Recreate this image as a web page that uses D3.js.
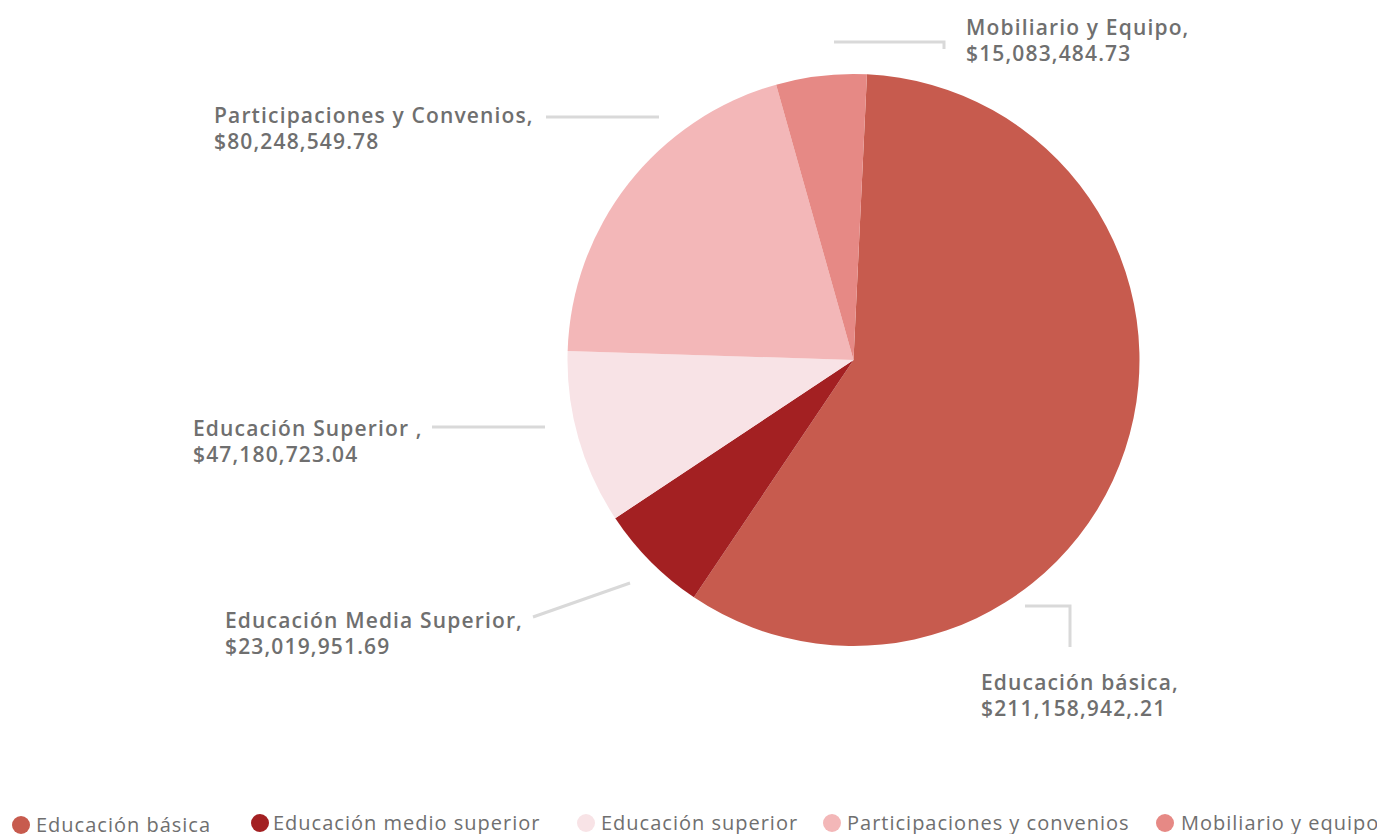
<!DOCTYPE html>
<html><head><meta charset="utf-8">
<script src="https://cdn.jsdelivr.net/npm/d3@7"></script>
<style>
html,body{margin:0;padding:0;background:#fff;}
svg{display:block;}
text{font-family:"Open Sans",sans-serif;font-weight:600;fill:#6f6f6f;}
</style></head>
<body>
<svg id="chart" width="1377" height="834"></svg>
<script>
// Slice shares as drawn (percent of the pie)
const categories = ["Educación básica","Educación Media Superior","Educación Superior","Participaciones y Convenios","Mobiliario y Equipo"];
const shares = [58.67, 6.25, 9.83, 20.14, 5.11];
const labelNames = ["Educación básica,","Educación Media Superior,","Educación Superior ,","Participaciones y Convenios,","Mobiliario y Equipo,"];
const labelAmounts = ["$211,158,942,.21","$23,019,951.69","$47,180,723.04","$80,248,549.78","$15,083,484.73"];
const legendNames = ["Educación básica","Educación medio superior","Educación superior","Participaciones y convenios","Mobiliario y equipo"];
const colors = ["#C75B4E","#A32022","#F8E3E6","#F3B7B8","#E68985"];

const svg = d3.select("#chart");
const cx = 853.5, cy = 360, R = 286;
const startDeg = 2.7;
const pie = d3.pie().sort(null).value(d => d.v)
  .startAngle(startDeg*Math.PI/180).endAngle((startDeg+360)*Math.PI/180);
const data = categories.map((c,i)=>({c, v: shares[i], i}));
const arcs = pie(data);
const arc = d3.arc().innerRadius(0).outerRadius(R);
const color = d3.scaleOrdinal().domain(categories).range(colors);

const g = svg.append("g").attr("transform",`translate(${cx},${cy})`);
g.selectAll("path").data(arcs).enter().append("path")
  .attr("d", arc).attr("fill", d => color(d.data.c));

// leader lines
const leaders = [
  [[1025,606],[1070,606],[1070,647]],
  [[630,583],[533,617]],
  [[545,427],[432,427]],
  [[659,117],[546,117]],
  [[834,42],[944,42],[944,49]]
];
const labelPos = [[981,690],[225,628],[193,436],[214,123],[966,35]];
const line = d3.line();
svg.append("g").selectAll("path").data(leaders).enter().append("path")
  .attr("d", d => line(d)).attr("fill","none").attr("stroke","#d9d9d9").attr("stroke-width",3);

const lbl = svg.append("g").selectAll("text").data(arcs).enter().append("text")
  .attr("x", (d,i)=>labelPos[i][0]).attr("y",(d,i)=>labelPos[i][1])
  .style("font-size","21px").style("letter-spacing","1.15px");
lbl.append("tspan").text((d,i)=>labelNames[i]);
lbl.append("tspan").attr("x",(d,i)=>labelPos[i][0]).attr("dy",26).text((d,i)=>labelAmounts[i]);

// legend
const legX = [[21,36],[260,273],[586,601],[832,847],[1165,1181]];
const legY = [825,823,823,823,823];
const leg = svg.append("g").selectAll("g").data(legendNames).enter().append("g");
leg.append("circle").attr("cx",(d,i)=>legX[i][0]).attr("cy",(d,i)=>legY[i]).attr("r",9)
  .attr("fill",(d,i)=>colors[i]);
leg.append("text").attr("x",(d,i)=>legX[i][1]).attr("y",(d,i)=>legY[i]+7)
  .style("font-size","20px").style("font-weight","500").style("letter-spacing","1px").text(d=>d);
</script>
</body></html>
